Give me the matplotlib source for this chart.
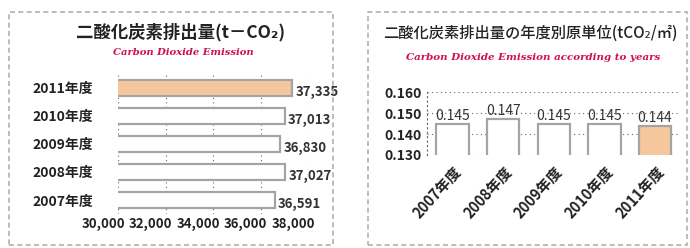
import matplotlib
matplotlib.use("Agg")
import matplotlib.pyplot as plt
from matplotlib.patches import Rectangle
from matplotlib.transforms import ScaledTranslation

plt.rcParams['font.family'] = ['Noto Sans CJK JP', 'DejaVu Sans']

# data
years = ['2007年度', '2008年度', '2009年度', '2010年度', '2011年度']
emission = [36591, 37027, 36830, 37013, 37335]
unit_rate = [0.145, 0.147, 0.145, 0.145, 0.144]
unit_labels = ['0.145', '0.147', '0.145', '0.145', '0.144']

plain = '#ffffff'
hilite = '#f6c79c'
edge = '#a4a4a4'
colors = [plain, plain, plain, plain, hilite]

fig = plt.figure(figsize=(6.9, 2.48), dpi=100)

# panel frames
fig.patches.append(Rectangle((9/690, 3/248), 324/690, 233/248, transform=fig.transFigure,
                             fill=False, ec='#b0b0b0', lw=1.2, ls=(0, (3, 2))))
fig.patches.append(Rectangle((368/690, 3/248), 319/690, 233/248, transform=fig.transFigure,
                             fill=False, ec='#b0b0b0', lw=1.2, ls=(0, (3, 2))))

# left: total emission (back plane looks shifted right, like the 3D chart)
ax1 = fig.add_axes([118/690, 0.137, 190/690, 0.565])
y = range(len(years))
ax1.barh(y, emission, height=0.58, color=colors, edgecolor=edge, lw=1.6, zorder=3)
for i, v in enumerate(emission):
    ax1.text(v + 150, i - 0.15, f'{v:,}', va='center', ha='left', fontsize=9.5,
             fontweight='bold', color='#333333')
ax1.set_xlim(30000, 38000)
ax1.set_ylim(-0.5, 4.5)
ax1.set_xticks([30000, 32000, 34000, 36000, 38000])
ax1.set_xticklabels(['30,000', '32,000', '34,000', '36,000', '38,000'])
ax1.set_yticks(list(y))
ax1.set_yticklabels(years)
ax1.tick_params(length=0, labelsize=9.5, colors='#222222', pad=2)
ax1.tick_params(axis='y', labelsize=10, pad=18)
shift = ScaledTranslation(-15/100, 0, fig.dpi_scale_trans)
for lab in ax1.get_xticklabels():
    lab.set_transform(lab.get_transform() + shift)
for lab in ax1.get_xticklabels() + ax1.get_yticklabels():
    lab.set_fontweight('bold')
ax1.grid(axis='x', color='#666666', ls=(0, (1, 3)), lw=0.8, zorder=0)
for s in ax1.spines.values():
    s.set_visible(False)
fig.text(0.262, 0.87, '二酸化炭素排出量(t－CO₂)', ha='center', va='center',
         fontsize=12.5, fontweight='bold', color='#222222')
fig.text(0.266, 0.79, 'Carbon Dioxide Emission', ha='center', va='center',
         fontsize=7.2, fontstyle='italic', fontweight='bold', family='DejaVu Serif',
         color='#d0104c')

# right: unit rate per year
ax2 = fig.add_axes([0.619, 0.375, 0.367, 0.254])
x = range(len(years))
ax2.bar(x, unit_rate, width=0.64, color=colors, edgecolor=edge, lw=1.6, zorder=3)
for i, v in enumerate(unit_rate):
    ax2.text(i, v + 0.0004, unit_labels[i], ha='center', va='bottom', fontsize=10,
             color='#333333')
ax2.set_ylim(0.130, 0.160)
ax2.set_xlim(-0.5, 4.5)
ax2.set_yticks([0.130, 0.140, 0.150, 0.160])
ax2.set_yticklabels(['0.130', '0.140', '0.150', '0.160'])
ax2.set_xticks(list(x))
ax2.set_xticklabels(years, rotation=48, ha='right', rotation_mode='anchor')
ax2.tick_params(length=0, labelsize=10, colors='#222222', pad=4)
ax2.tick_params(axis='x', labelsize=10.5, pad=6)
for lab in ax2.get_xticklabels() + ax2.get_yticklabels():
    lab.set_fontweight('bold')
ax2.grid(axis='y', color='#666666', ls=(0, (1, 3)), lw=0.8, zorder=0)
for s in ax2.spines.values():
    s.set_visible(False)
ax2.spines['left'].set_visible(True)
ax2.spines['left'].set_linestyle((0, (1, 3)))
ax2.spines['left'].set_color('#666666')
fig.text(0.768, 0.865, '二酸化炭素排出量の年度別原単位(tCO₂/㎡)', ha='center', va='center',
         fontsize=11, fontweight='medium', color='#222222')
fig.text(0.772, 0.77, 'Carbon Dioxide Emission according to years', ha='center', va='center',
         fontsize=7.4, fontstyle='italic', fontweight='bold', family='DejaVu Serif',
         color='#d0104c')

fig.savefig('out.png', dpi=100)
